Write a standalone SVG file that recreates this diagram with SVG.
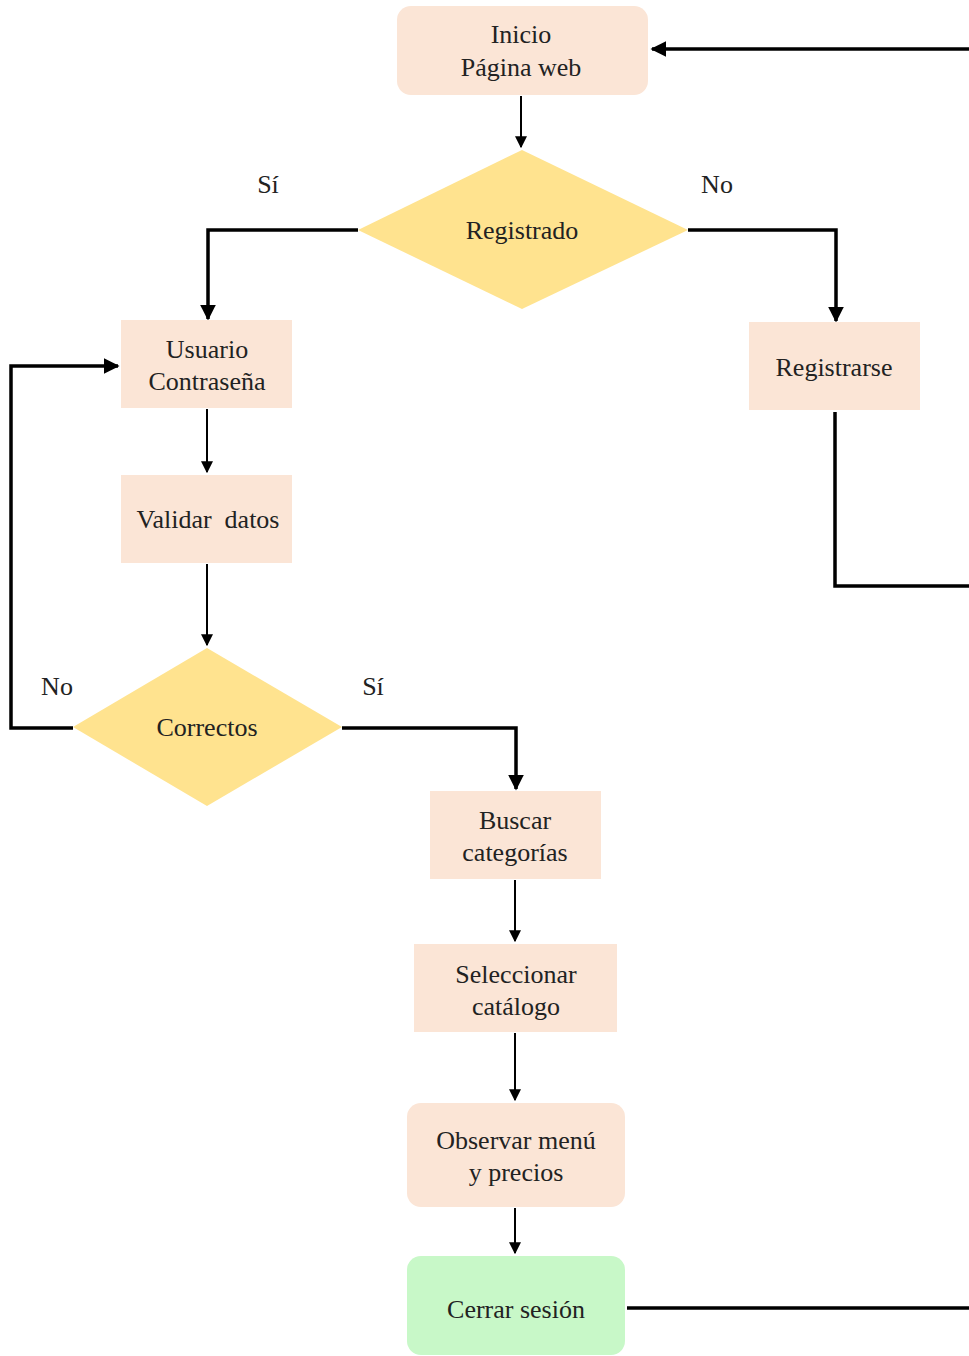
<svg xmlns="http://www.w3.org/2000/svg" width="969" height="1356" viewBox="0 0 969 1356">
<defs>
<marker id="ah2" viewBox="0 0 10 10" refX="9" refY="5" markerWidth="4.5" markerHeight="4.5" orient="auto">
<path d="M0,0 L10,5 L0,10 z" fill="#000"/>
</marker>
<marker id="ah3" viewBox="0 0 10 10" refX="9" refY="5" markerWidth="6" markerHeight="6" orient="auto">
<path d="M0,0 L10,5 L0,10 z" fill="#000"/>
</marker>
</defs>
<style>
.box{fill:#FBE5D6;}
.dia{fill:#FFE38F;}
.end{fill:#C8F8C8;}
text{font-family:"Liberation Serif","Times New Roman",serif;font-size:26px;fill:#222;text-anchor:middle;}
.thin{stroke:#000;stroke-width:2;fill:none;}
.thick{stroke:#000;stroke-width:3.5;fill:none;}
</style>
<rect width="969" height="1356" fill="#fff"/>
<g id="connectors">
<path class="thin" d="M521,96 V147" marker-end="url(#ah3)"/>
<path class="thick" d="M358,230 H208 V319" marker-end="url(#ah2)"/>
<path class="thick" d="M688,230 H836 V321" marker-end="url(#ah2)"/>
<path class="thin" d="M207,409 V472" marker-end="url(#ah3)"/>
<path class="thin" d="M207,564 V645" marker-end="url(#ah3)"/>
<path class="thick" d="M73,728 H11 V366 H118" marker-end="url(#ah2)"/>
<path class="thick" d="M342,728 H516 V789" marker-end="url(#ah2)"/>
<path class="thin" d="M515,880 V941" marker-end="url(#ah3)"/>
<path class="thin" d="M515,1033 V1100" marker-end="url(#ah3)"/>
<path class="thin" d="M515,1208 V1253" marker-end="url(#ah3)"/>
<path class="thick" d="M835,412 V586 H969"/>
<path class="thick" d="M627,1308 H969"/>
<path class="thick" d="M969,49 H652" marker-end="url(#ah2)"/>
</g>
<g id="inicio">
<rect class="box" x="397" y="6" width="251" height="89" rx="14"/>
<text x="521" y="43">Inicio</text>
<text x="521" y="76">Página web</text>
</g>
<g id="registrado">
<polygon class="dia" points="522,150 688,230 522,309 358,230"/>
<text x="522" y="239">Registrado</text>
</g>
<g id="label-si-1"><text x="268" y="193">Sí</text></g>
<g id="label-no-1"><text x="717" y="193">No</text></g>
<g id="usuario">
<rect class="box" x="121" y="320" width="171" height="88"/>
<text x="207" y="358">Usuario</text>
<text x="207" y="390">Contraseña</text>
</g>
<g id="registrarse">
<rect class="box" x="749" y="322" width="171" height="88"/>
<text x="834" y="376">Registrarse</text>
</g>
<g id="validar">
<rect class="box" x="121" y="475" width="171" height="88"/>
<text x="208" y="528" xml:space="preserve">Validar  datos</text>
</g>
<g id="correctos">
<polygon class="dia" points="207,648 342,727 207,806 73,727"/>
<text x="207" y="736">Correctos</text>
</g>
<g id="label-no-2"><text x="57" y="695">No</text></g>
<g id="label-si-2"><text x="373" y="695">Sí</text></g>
<g id="buscar">
<rect class="box" x="430" y="791" width="171" height="88"/>
<text x="515" y="829">Buscar</text>
<text x="515" y="861">categorías</text>
</g>
<g id="seleccionar">
<rect class="box" x="414" y="944" width="203" height="88"/>
<text x="516" y="983">Seleccionar</text>
<text x="516" y="1015">catálogo</text>
</g>
<g id="observar">
<rect class="box" x="407" y="1103" width="218" height="104" rx="14"/>
<text x="516" y="1149">Observar menú</text>
<text x="516" y="1181">y precios</text>
</g>
<g id="cerrar">
<rect class="end" x="407" y="1256" width="218" height="99" rx="14"/>
<text x="516" y="1318">Cerrar sesión</text>
</g>
</svg>
